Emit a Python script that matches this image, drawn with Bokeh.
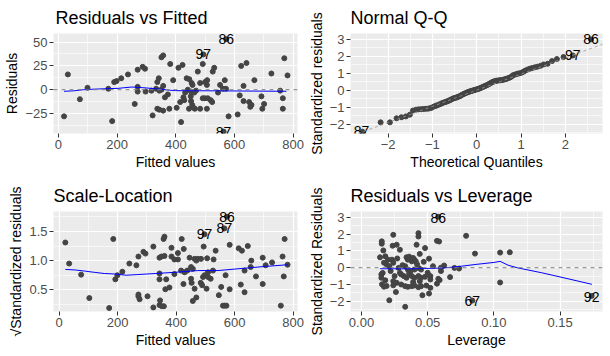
from bokeh.plotting import figure
from bokeh.layouts import gridplot
from bokeh.models import Range1d, FixedTicker, Span, Slope, PrintfTickFormatter, ColumnDataSource
from bokeh.core.properties import value
from bokeh.embed import file_html
from bokeh.resources import INLINE

FONT = "Liberation Sans"

# ---------------- Panel 1: Residuals vs Fitted ----------------
fitted1 = [19, 32, 73, 99, 170, 183, 190, 198, 214, 237, 260, 270, 270, 270, 287, 295, 297, 321, 317, 333,
           337, 342, 337, 344, 357, 351, 357, 344, 351, 357, 363, 373, 381, 378, 391, 409, 403,
           423, 437, 446, 454, 475, 492, 526, 531, 483, 500, 507, 506, 457, 469, 463, 551, 567, 561, 571,
           544, 623, 641, 631, 668, 726, 770, 781, 756, 765, 765, 692, 701, 695, 618, 631, 650, 654, 658,
           611, 580, 418, 415, 426, 429, 451, 452, 456, 461, 445, 492, 499, 509, 519, 524, 506, 483, 465,
           432, 452, 441, 572, 494, 563]
resid1 = [-28, 16, -10, 2, 1, -33, 8, 9, 12, 16, -15, 21, 3, -2, 24, 22, -2, -27, -1, 1,
          8, 12, -20, -21, -22, 34, 36, -1, 0, 4, -8, -5, 27, -20, 10, 23, -19,
          26, 12, 11, 7, 19, 27, 19, 23, 7, 8, 10, 5, 5, -1, -3, 5, 10, 1, 1,
          -3, 25, 28, 4, 10, 17, 33, 15, -1, -9, -20, -7, -15, -20, -6, -12, -13, -18, -16,
          -26, -28, -34, -13, -8, -11, -7, -12, -16, -19, -20, -9, -9, -9, -11, -13, -20, -20, -20,
          -3, -2, 0, 53, 37, -44]
smooth1_x = [19, 51, 85, 132, 203, 250, 288, 333, 378, 400, 544, 777]
smooth1_y = [-1.7, -1.2, 0, 0.7, 1.4, 2.8, 2.1, 1.0, -0.5, -1.0, -1.2, -1.7]
lab1_x = [572, 494, 563]
lab1_y = [53, 37, -44]
lab1_t = ["86", "97", "87"]

# ---------------- Panel 2: Normal Q-Q ----------------
qq_x = [-2.58, -2.17, -1.96, -1.81, -1.70, -1.60, -1.51, -1.44, -1.37, -1.31, -1.25, -1.20, -1.15, -1.10,
        -1.06, -1.02, -0.97, -0.93, -0.90, -0.86, -0.82, -0.79, -0.76, -0.72, -0.69, -0.66, -0.63, -0.60,
        -0.57, -0.54, -0.51, -0.48, -0.45, -0.43, -0.40, -0.37, -0.35, -0.32, -0.29, -0.27, -0.24, -0.21,
        -0.19, -0.16, -0.14, -0.11, -0.09, -0.06, -0.04, -0.01,
        0.01, 0.04, 0.06, 0.09, 0.11, 0.14, 0.16, 0.19, 0.21, 0.24, 0.27, 0.29, 0.32, 0.35, 0.37, 0.40,
        0.43, 0.45, 0.48, 0.51, 0.54, 0.57, 0.60, 0.63, 0.66, 0.69, 0.72, 0.76, 0.79, 0.82, 0.86, 0.90,
        0.93, 0.97, 1.02, 1.06, 1.10, 1.15, 1.20, 1.25, 1.31, 1.37, 1.44, 1.51, 1.60, 1.70, 1.81, 1.96,
        2.17, 2.58]
qq_y = [-2.45, -1.90, -1.90, -1.66, -1.60, -1.55, -1.45, -1.20, -1.15, -1.13, -1.12, -1.11, -1.10, -1.09,
        -1.07, -1.04, -0.97, -0.93, -0.90, -0.86, -0.82, -0.78, -0.74, -0.71, -0.68, -0.65, -0.62, -0.58,
        -0.54, -0.50, -0.47, -0.45, -0.43, -0.40, -0.37, -0.34, -0.30, -0.26, -0.22, -0.19, -0.16, -0.13,
        -0.10, -0.08, -0.06, -0.04, -0.02, 0.00, 0.02, 0.04,
        0.06, 0.08, 0.10, 0.13, 0.16, 0.19, 0.22, 0.25, 0.28, 0.31, 0.35, 0.39, 0.43, 0.47, 0.50, 0.53,
        0.55, 0.56, 0.57, 0.58, 0.59, 0.60, 0.62, 0.64, 0.66, 0.69, 0.72, 0.76, 0.82, 0.88, 0.92, 0.95,
        0.98, 1.00, 1.04, 1.10, 1.16, 1.22, 1.27, 1.31, 1.35, 1.39, 1.44, 1.52, 1.56, 1.72, 1.84, 1.96,
        2.05, 3.00]
qq_slope = 0.955
qq_intercept = 0.0
lab2_x = [2.58, 2.17, -2.60]
lab2_y = [3.00, 2.05, -2.40]
lab2_t = ["86", "97", "87"]

# ---------------- Panel 3: Scale-Location ----------------
fitted3 = [21, 34, 75, 103, 171, 185, 192, 199, 216, 240, 264, 271, 288, 295, 271, 275, 271, 302, 322, 322,
           343, 350, 360, 343, 343, 357, 360, 384, 384, 363, 377, 345, 343, 351, 358, 366, 394, 394,
           574, 565, 497, 419, 406, 426, 406, 494, 535, 583, 614, 625, 645, 657, 696, 771, 764, 728, 706,
           781, 768, 673, 696, 634, 621, 634, 655, 583, 569, 554, 546, 560, 566, 572, 758, 446, 463, 469,
           474, 485, 506, 528, 417, 429, 438, 457, 451, 451, 453, 463, 469, 457, 492, 497, 509, 518, 509,
           484, 489, 504, 526, 425]
sqrt_std3 = [1.31, 0.95, 0.76, 0.36, 0.19, 1.37, 0.68, 0.75, 0.81, 0.95, 0.92, 1.07, 1.15, 1.12, 0.39, 0.34,
             0.42, 0.39, 1.24, 0.20, 1.05, 1.07, 1.08, 0.78, 0.68, 1.37, 1.41, 1.22, 1.07, 0.51, 0.54, 0.32,
             0.24, 0.22, 0.22, 0.68, 0.77, 1.02,
             1.75, 1.55, 1.45, 1.37, 1.13, 1.20, 1.02, 1.24, 1.17, 1.27, 1.21, 1.17, 1.25, 1.00, 1.05, 1.37,
             1.07, 0.97, 0.92, 0.93, 0.73, 0.73, 0.60, 0.83, 0.59, 0.46, 0.89, 0.51, 0.75, 0.55, 0.41, 0.23,
             0.23, 0.23, 0.23, 1.05, 1.03, 1.00, 1.03, 1.03, 1.04, 1.02, 0.83, 0.80, 0.83, 0.86, 0.89, 0.69,
             0.62, 0.52, 0.37, 0.31, 0.72, 0.75, 0.72, 0.69, 0.80, 0.62, 0.58, 0.52, 0.83, 0.60]
smooth3_x = [21, 55, 89, 120, 154, 194, 229, 263, 297, 331, 394, 474, 543, 611, 703, 783]
smooth3_y = [0.85, 0.84, 0.82, 0.80, 0.78, 0.77, 0.75, 0.76, 0.77, 0.78, 0.80, 0.83, 0.83, 0.86, 0.90, 0.93]
lab3_x = [574, 565, 497]
lab3_y = [1.75, 1.55, 1.45]
lab3_t = ["86", "87", "97"]

# ---------------- Panel 4: Residuals vs Leverage ----------------
lev4 = [0.058, 0.0153, 0.0153, 0.024, 0.0165, 0.0235, 0.0266, 0.029, 0.043, 0.043, 0.0416, 0.048, 0.057,
        0.0586, 0.051, 0.044, 0.014, 0.018, 0.020, 0.023, 0.019, 0.021, 0.024, 0.016, 0.015, 0.015, 0.0155,
        0.017, 0.019, 0.021, 0.024, 0.025, 0.024, 0.0266, 0.028, 0.029, 0.030, 0.034, 0.036, 0.039, 0.035,
        0.040, 0.038, 0.041, 0.033, 0.035, 0.037, 0.040, 0.043, 0.045, 0.032, 0.034, 0.038, 0.040, 0.043,
        0.045, 0.048, 0.052, 0.052, 0.030, 0.033, 0.035, 0.038, 0.040, 0.043, 0.045, 0.049, 0.052, 0.033,
        0.046, 0.051, 0.026, 0.054, 0.060, 0.060, 0.058, 0.059, 0.057, 0.0624, 0.0669, 0.0702, 0.0737,
        0.079, 0.0857, 0.1047, 0.112, 0.1047, 0.0837, 0.1738,
        0.017, 0.022, 0.027, 0.031, 0.036, 0.042, 0.047, 0.050, 0.044, 0.039, 0.018]
stdres4 = [3.04, 1.57, 1.43, 1.96, 1.03, 1.31, 1.37, 1.07, 2.06, 1.86, 1.37, 1.17, 1.60, 1.56, 0.54, 0.82,
           0.62, 0.68, 0.48, 0.48, 0.19, 0.09, 0.29, -0.31, -0.40, -0.60, -0.99, -1.13, -1.09, -1.94, -1.05,
           -0.50, -0.80, -0.90, -0.01, -0.31, -0.40, 0.62, 0.66, 0.58, 0.48, 0.48, 0.38, 0.38, 0.09, -0.11,
           -0.21, -0.11, -0.01, -0.11, -0.50, -0.60, -0.50, -0.60, -0.50, -0.60, -0.54, -0.70, -0.50, -1.00,
           -1.10, -1.14, -1.10, -1.06, -1.16, -1.10, -1.06, -1.20, -2.33, -1.64, -1.54, -1.45, 0.09, 0.00,
           -0.20, -0.66, -0.74, -0.95, 0.13, -0.56, -0.01, -0.05, 1.90, 0.84, 0.90, 0.92, -0.88, -1.96, -1.68,
           0.30, -0.20, 0.55, 0.15, -0.35, 0.20, 0.35, -0.30, -0.80, -0.85, -0.75]
smooth4_x = [0.014, 0.030, 0.045, 0.0606, 0.068, 0.0756, 0.0857, 0.1007, 0.1047, 0.1107, 0.118, 0.136, 0.156, 0.174]
smooth4_y = [-0.06, -0.07, -0.05, -0.02, 0.03, 0.09, 0.19, 0.32, 0.38, 0.15, -0.01, -0.30, -0.66, -0.99]
lab4_x = [0.058, 0.0837, 0.1738]
lab4_y = [2.95, -1.96, -1.72]
lab4_t = ["86", "67", "92"]


def make_fig(title, xr, yr, w, h, bl, br, bt, bb, xt, xm, yt, ym, xlabel, ylabel, xfmt=None, yfmt=None, toff=0):
    p = figure(width=w, height=h, x_range=Range1d(*xr), y_range=Range1d(*yr),
               output_backend="svg", toolbar_location=None,
               min_border_left=bl, min_border_right=br, min_border_top=bt, min_border_bottom=bb)
    p.title.text = title
    p.title.text_font = FONT
    p.title.text_font_size = "18px"
    p.title.text_font_style = "normal"
    p.title.text_color = "black"
    p.title.standoff = 11
    p.title.offset = toff
    p.background_fill_color = "#EBEBEB"
    p.border_fill_color = "white"
    p.outline_line_color = None
    p.xaxis.ticker = FixedTicker(ticks=xt, minor_ticks=xm)
    p.yaxis.ticker = FixedTicker(ticks=yt, minor_ticks=ym)
    if xfmt:
        p.xaxis.formatter = PrintfTickFormatter(format=xfmt)
    if yfmt:
        p.yaxis.formatter = PrintfTickFormatter(format=yfmt)
    p.xaxis.axis_label = xlabel
    p.yaxis.axis_label = ylabel
    for ax in (p.xaxis, p.yaxis):
        ax.axis_line_color = None
        ax.major_tick_line_color = "#333333"
        ax.major_tick_out = 4
        ax.major_tick_in = 0
        ax.minor_tick_line_color = None
        ax.major_label_text_color = "#4D4D4D"
        ax.major_label_text_font = FONT
        ax.major_label_text_font_size = "13px"
        ax.major_label_standoff = 2
        ax.axis_label_text_font = FONT
        ax.axis_label_text_font_size = "14px"
        ax.axis_label_text_font_style = "normal"
        ax.axis_label_text_color = "black"
        ax.axis_label_standoff = 2
    for g in (p.xgrid, p.ygrid):
        g.grid_line_color = "white"
        g.grid_line_width = 1.2
        g.minor_grid_line_color = "white"
        g.minor_grid_line_width = 0.6
    return p


PT = "#444444"

def add_points(p, xs, ys):
    p.scatter(xs, ys, size=5, color=PT)

def add_labels(p, xs, ys, ts):
    src = ColumnDataSource(dict(x=xs, y=ys, t=ts))
    p.text(x="x", y="y", text="t", source=src, text_font=value(FONT), text_font_size="14px",
           text_align="center", text_baseline="middle", text_color="black")

# Panel 1
p1 = make_fig("Residuals vs Fitted", (-17, 815), (-46, 59), 305, 178, 49, 8, 32, 45,
              [0, 200, 400, 600, 800], [100, 300, 500, 700],
              [-25, 0, 25, 50], [-37.5, -12.5, 12.5, 37.5],
              "Fitted values", "Residuals", toff=2)
p1.add_layout(Span(location=0, dimension="width", line_color="#7F7F7F", line_dash="4 4", line_width=1))
add_points(p1, fitted1, resid1)
p1.line(smooth1_x, smooth1_y, line_color="blue", line_width=1)
add_labels(p1, lab1_x, lab1_y, lab1_t)

# Panel 2
p2 = make_fig("Normal Q-Q", (-2.85, 2.84), (-2.56, 3.35), 305, 178, 43, 8, 32, 45,
              [-2, -1, 0, 1, 2], [-2.5, -1.5, -0.5, 0.5, 1.5, 2.5],
              [-2, -1, 0, 1, 2, 3], [-2.5, -1.5, -0.5, 0.5, 1.5, 2.5],
              "Theoretical Quantiles", "Standardized residuals")
p2.add_layout(Slope(gradient=qq_slope, y_intercept=qq_intercept, line_color="#999999",
                    line_dash="3 3", line_width=0.8))
add_points(p2, qq_x, qq_y)
add_labels(p2, lab2_x, lab2_y, lab2_t)

# Panel 3
p3 = make_fig("Scale-Location", (-19.5, 815), (0.13, 1.84), 305, 178, 53, 8, 32, 45,
              [0, 200, 400, 600, 800], [100, 300, 500, 700],
              [0.5, 1.0, 1.5], [0.25, 0.75, 1.25, 1.75],
              "Fitted values", "√Standardized residuals", yfmt="%.1f")
add_points(p3, fitted3, sqrt_std3)
p3.line(smooth3_x, smooth3_y, line_color="blue", line_width=1)
add_labels(p3, lab3_x, lab3_y, lab3_t)

# Panel 4
p4 = make_fig("Residuals vs Leverage", (-0.0083, 0.182), (-2.61, 3.35), 305, 178, 43, 8, 32, 45,
              [0.0, 0.05, 0.10, 0.15], [0.025, 0.075, 0.125, 0.175],
              [-2, -1, 0, 1, 2, 3], [-2.5, -1.5, -0.5, 0.5, 1.5, 2.5],
              "Leverage", "Standardized Residuals", xfmt="%.2f")
p4.add_layout(Span(location=0, dimension="width", line_color="#7F7F7F", line_dash="4 4", line_width=1))
add_points(p4, lev4, stdres4)
p4.line(smooth4_x, smooth4_y, line_color="blue", line_width=1)
add_labels(p4, lab4_x, lab4_y, lab4_t)

grid = gridplot([[p1, p2], [p3, p4]], toolbar_location=None)

open("out.html", "w").write(file_html(grid, INLINE))
